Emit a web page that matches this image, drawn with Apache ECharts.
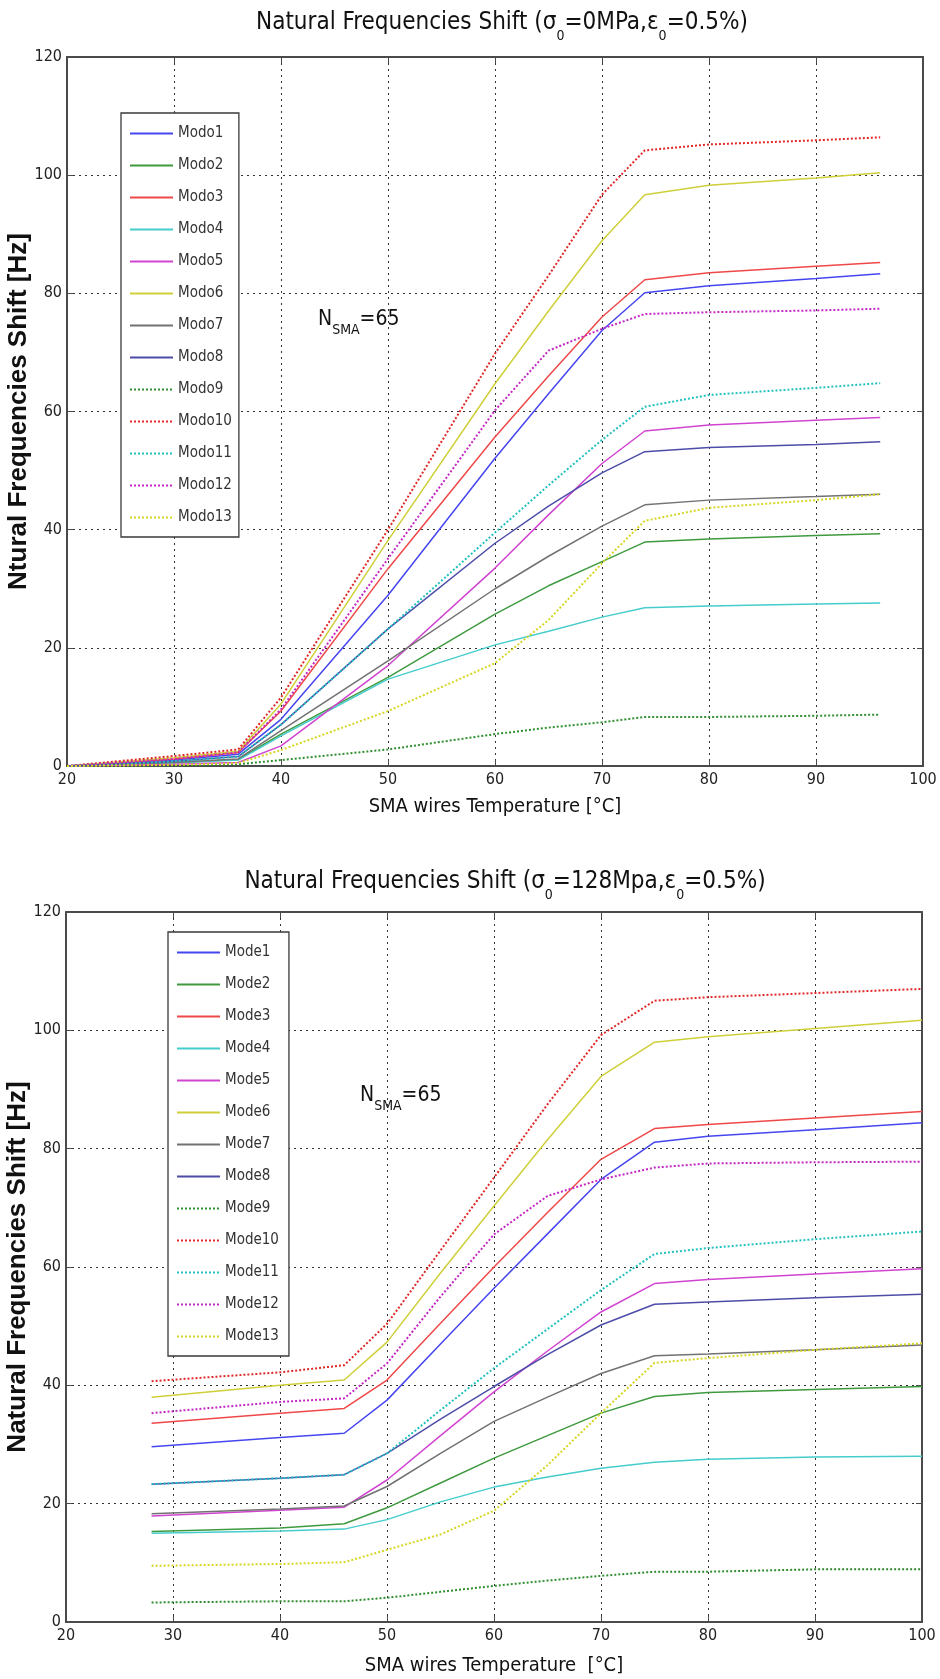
<!DOCTYPE html>
<html>
<head>
<meta charset="utf-8">
<script src="https://cdn.jsdelivr.net/npm/echarts@6/dist/echarts.min.js"></script>
<style>
html,body{margin:0;padding:0;background:#fff;}
#c{width:940px;height:1679px;}
</style>
</head>
<body>
<div id="c"></div>
<script>
// ---------- DATA: top chart (sigma0 = 0 MPa) ----------
const temps1 = [20, 30, 36, 40, 50, 60, 65, 70, 74, 80, 90, 96];
const modo1  = [0, 1.0, 2.0, 7.9, 28.9, 52.1, 63.0, 73.7, 80.1, 81.3, 82.5, 83.3];
const modo2  = [0, 0.6, 1.1, 5.4, 15.0, 25.7, 30.5, 34.6, 37.9, 38.4, 39.0, 39.3];
const modo3  = [0, 1.2, 2.3, 9.3, 33.4, 55.7, 66.0, 76.0, 82.3, 83.5, 84.6, 85.2];
const modo4  = [0, 0.5, 1.0, 5.1, 14.7, 20.5, 22.8, 25.2, 26.8, 27.1, 27.4, 27.6];
const modo5  = [0, 0.3, 0.6, 3.4, 17.0, 33.5, 42.5, 51.2, 56.7, 57.7, 58.5, 59.0];
const modo6  = [0, 1.4, 2.5, 10.5, 38.2, 64.7, 77.0, 88.9, 96.7, 98.3, 99.5, 100.4];
const modo7  = [0, 0.6, 1.2, 6.0, 17.8, 30.0, 35.5, 40.6, 44.2, 45.0, 45.6, 46.0];
const modo8  = [0, 0.8, 1.6, 7.0, 23.2, 37.7, 44.0, 49.6, 53.2, 53.9, 54.4, 54.9];
const modo9  = [0, 0.1, 0.3, 1.0, 2.8, 5.4, 6.5, 7.4, 8.3, 8.3, 8.5, 8.7];
const modo10 = [0, 1.7, 2.8, 11.6, 40.0, 69.8, 83.0, 96.7, 104.2, 105.2, 105.9, 106.4];
const modo11 = [0, 0.8, 1.6, 7.0, 23.2, 39.5, 47.5, 55.2, 60.8, 62.8, 64.0, 64.8];
const modo12 = [0, 1.2, 2.3, 9.6, 35.1, 60.2, 70.3, 74.0, 76.5, 76.8, 77.1, 77.4];
const modo13 = [0, 0.2, 0.5, 2.7, 9.3, 17.4, 24.7, 34.3, 41.5, 43.7, 45.0, 46.0];
const names1 = ['Modo1','Modo2','Modo3','Modo4','Modo5','Modo6','Modo7','Modo8','Modo9','Modo10','Modo11','Modo12','Modo13'];

// ---------- DATA: bottom chart (sigma0 = 128 MPa) ----------
const temps2 = [28, 40, 46, 50, 55, 60, 65, 70, 75, 80, 90, 100];
const mode1  = [29.6, 31.2, 31.9, 37.5, 47.0, 56.4, 65.6, 74.8, 81.1, 82.1, 83.2, 84.4];
const mode2  = [15.3, 15.9, 16.6, 19.3, 23.5, 27.7, 31.5, 35.3, 38.1, 38.8, 39.3, 39.8];
const mode3  = [33.6, 35.3, 36.1, 40.9, 50.5, 60.0, 69.2, 78.2, 83.4, 84.1, 85.2, 86.3];
const mode4  = [15.0, 15.4, 15.7, 17.3, 20.3, 22.8, 24.5, 26.0, 27.0, 27.5, 27.9, 28.0];
const mode5  = [17.9, 18.9, 19.4, 24.0, 31.5, 38.9, 45.8, 52.4, 57.2, 57.9, 58.8, 59.7];
const mode6  = [38.0, 40.0, 40.9, 47.3, 59.0, 70.3, 81.5, 92.2, 98.0, 98.9, 100.3, 101.7];
const mode7  = [18.3, 19.1, 19.6, 22.9, 28.5, 33.9, 38.0, 42.0, 45.0, 45.3, 46.0, 46.8];
const mode8  = [23.3, 24.3, 24.9, 28.5, 34.3, 39.8, 45.2, 50.2, 53.7, 54.1, 54.8, 55.4];
const mode9  = [3.3, 3.5, 3.5, 4.1, 5.1, 6.1, 7.0, 7.8, 8.5, 8.5, 8.9, 8.9];
const mode10 = [40.7, 42.2, 43.4, 50.4, 62.8, 75.1, 87.5, 99.2, 105.0, 105.6, 106.3, 107.0];
const mode11 = [23.3, 24.3, 24.9, 28.5, 35.8, 42.9, 49.5, 56.1, 62.2, 63.2, 64.7, 66.0];
const mode12 = [35.3, 37.2, 37.8, 43.7, 55.0, 65.5, 72.0, 74.8, 76.8, 77.5, 77.7, 77.8];
const mode13 = [9.5, 9.8, 10.1, 12.2, 14.8, 18.8, 26.5, 35.3, 43.8, 44.6, 46.0, 47.1];
const names2 = ['Mode1','Mode2','Mode3','Mode4','Mode5','Mode6','Mode7','Mode8','Mode9','Mode10','Mode11','Mode12','Mode13'];

const xTicks = [20, 100, 10];   // min, max, interval
const yTicks = [0, 120, 20];

// ---------- STYLE ----------
const FN = "'Liberation Sans Narrow','Arial Narrow','DejaVu Sans Condensed','Liberation Sans',sans-serif";
const FB = "'Liberation Sans',Arial,sans-serif";
const colors = ['#4646f0','#3f9a3f','#ef4848','#46cccc','#d044d0','#cfcf3a','#727272','#4d4da8',
                '#2f8f2f','#e02828','#22c0c0','#c426c4','#d6d624'];
const dotted = [false,false,false,false,false,false,false,false,true,true,true,true,true];

const set1 = [modo1,modo2,modo3,modo4,modo5,modo6,modo7,modo8,modo9,modo10,modo11,modo12,modo13];
const set2 = [mode1,mode2,mode3,mode4,mode5,mode6,mode7,mode8,mode9,mode10,mode11,mode12,mode13];

function mkSeries(names, sets, xs, idx) {
  return names.map((n, i) => ({
    name: n, type: 'line', xAxisIndex: idx, yAxisIndex: idx,
    data: xs.map((t, k) => [t, sets[i][k]]),
    symbol: 'none', showSymbol: false, animation: false, silent: true,
    lineStyle: { color: colors[i], width: dotted[i] ? 2 : 1.5, type: dotted[i] ? [2, 2] : 'solid' },
    itemStyle: { color: colors[i] },
    z: 3
  }));
}

const grids = [
  { left: 67, right: 17, top: 57, height: 709, containLabel: false, outerBoundsMode: 'none' },
  { left: 66, right: 18, top: 912, height: 710, containLabel: false, outerBoundsMode: 'none' }
];

function bottomX(gi, name, gap) {
  return {
    gridIndex: gi, type: 'value', min: xTicks[0], max: xTicks[1], interval: xTicks[2],
    position: 'bottom',
    axisLine: { show: true, onZero: false, lineStyle: { color: '#4a4a4a', width: 2 } },
    axisTick: { inside: true, length: 6, lineStyle: { color: '#4a4a4a' } },
    axisLabel: { margin: 6, fontSize: 16, fontFamily: FN, color: '#222' },
    splitLine: { show: true, lineStyle: { type: [2, 4], color: '#333', width: 1 } },
    name: name, nameLocation: 'middle', nameGap: gap,
    nameTextStyle: { fontSize: 20, fontFamily: FN, color: '#111' }
  };
}
function topX(gi) {
  return {
    gridIndex: gi, type: 'value', min: xTicks[0], max: xTicks[1], interval: xTicks[2],
    position: 'top',
    axisLine: { show: true, onZero: false, lineStyle: { color: '#4a4a4a', width: 2 } },
    axisTick: { inside: true, length: 6, lineStyle: { color: '#4a4a4a' } },
    axisLabel: { show: false }, splitLine: { show: false }
  };
}
function leftY(gi, name) {
  return {
    gridIndex: gi, type: 'value', min: yTicks[0], max: yTicks[1], interval: yTicks[2],
    position: 'left',
    axisLine: { show: true, onZero: false, lineStyle: { color: '#4a4a4a', width: 2 } },
    axisTick: { inside: true, length: 6, lineStyle: { color: '#4a4a4a' } },
    axisLabel: { margin: 5, fontSize: 16, fontFamily: FN, color: '#222' },
    splitLine: { show: true, lineStyle: { type: [2, 4], color: '#333', width: 1 } },
    name: name, nameLocation: 'middle', nameGap: 35, nameRotate: 90, nameMoveOverlap: false,
    nameTextStyle: { fontSize: 26, fontWeight: 'bold', fontFamily: FB, color: '#111' }
  };
}
function rightY(gi) {
  return {
    gridIndex: gi, type: 'value', min: yTicks[0], max: yTicks[1], interval: yTicks[2],
    position: 'right',
    axisLine: { show: true, onZero: false, lineStyle: { color: '#4a4a4a', width: 2 } },
    axisTick: { inside: true, length: 6, lineStyle: { color: '#4a4a4a' } },
    axisLabel: { show: false }, splitLine: { show: false }
  };
}

function legend(names, left, top, padRight) {
  return {
    data: names, orient: 'vertical', left: left, top: top,
    backgroundColor: '#fff', borderColor: '#3a3a3a', borderWidth: 1.3, borderRadius: 0,
    padding: [13, padRight, 12, 8], itemGap: 17, itemWidth: 43, itemHeight: 14,
    selectedMode: false,
    itemStyle: { opacity: 0 },
    textStyle: { fontSize: 15, fontFamily: FN, color: '#333' }
  };
}

const richTitle = {
  t: { fontSize: 24, fontFamily: FN, fill: '#111', color: '#111', lineHeight: 28, verticalAlign: 'top' },
  s: { fontSize: 14, fontFamily: FN, fill: '#111', color: '#111', lineHeight: 15, padding: [18, 0, 0, 0], verticalAlign: 'top' }
};
const richN = {
  n: { fontSize: 21, fontFamily: FN, fill: '#111', color: '#111', lineHeight: 24, verticalAlign: 'top' },
  s: { fontSize: 14, fontFamily: FN, fill: '#111', color: '#111', lineHeight: 15, padding: [14, 0, 0, 0], verticalAlign: 'top' }
};

const option = {
  animation: false,
  backgroundColor: '#fff',
  grid: grids,
  xAxis: [bottomX(0, 'SMA wires Temperature [°C]', 31), bottomX(1, 'SMA wires Temperature  [°C]', 34), topX(0), topX(1)],
  yAxis: [leftY(0, 'Ntural Frequencies Shift [Hz]'), leftY(1, 'Natural Frequencies Shift [Hz]'), rightY(0), rightY(1)],
  legend: [legend(names1, 121, 113, 7), legend(names2, 168, 932, 10)],
  series: mkSeries(names1, set1, temps1, 0).concat(mkSeries(names2, set2, temps2, 1)),
  graphic: [
    { type: 'text', x: 502, y: 11, z: 10,
      style: { text: '{t|Natural Frequencies Shift (σ}{s|0}{t|=0MPa,ε}{s|0}{t|=0.5%)}', align: 'center', verticalAlign: 'top', rich: richTitle } },
    { type: 'text', x: 505, y: 870, z: 10,
      style: { text: '{t|Natural Frequencies Shift (σ}{s|0}{t|=128Mpa,ε}{s|0}{t|=0.5%)}', align: 'center', verticalAlign: 'top', rich: richTitle } },
    { type: 'text', x: 318, y: 309, z: 10,
      style: { text: '{n|N}{s|SMA}{n|=65}', align: 'left', verticalAlign: 'top', rich: richN } },
    { type: 'text', x: 360, y: 1085, z: 10,
      style: { text: '{n|N}{s|SMA}{n|=65}', align: 'left', verticalAlign: 'top', rich: richN } }
  ]
};

const chart = echarts.init(document.getElementById('c'), null, { renderer: 'canvas' });
chart.setOption(option);
</script>
</body>
</html>
